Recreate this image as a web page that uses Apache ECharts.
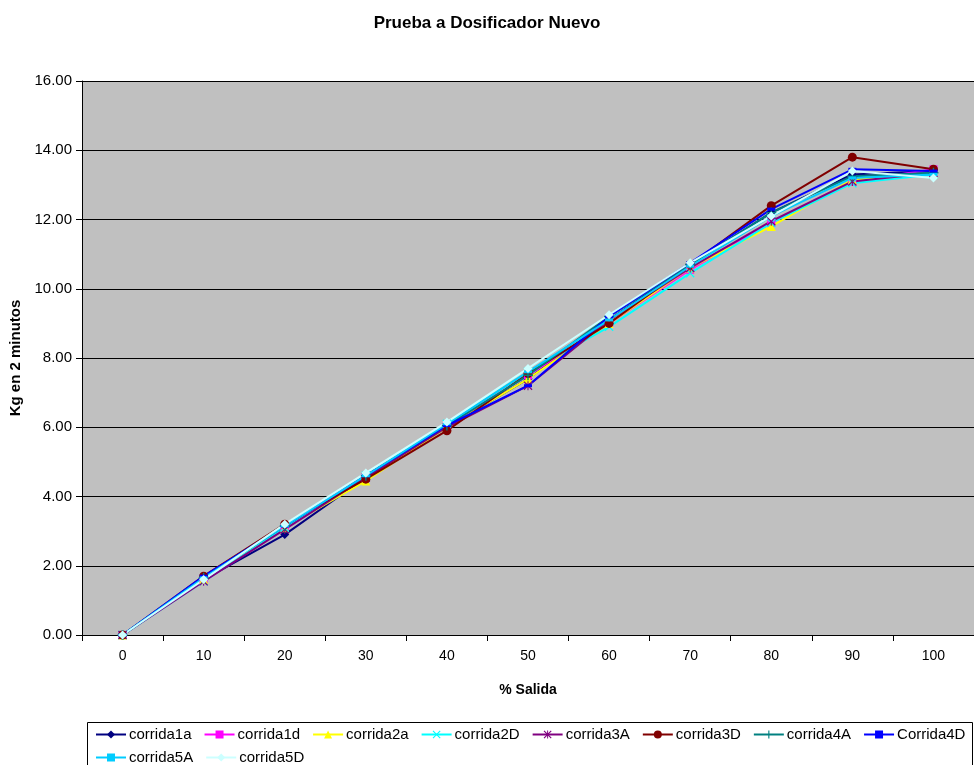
<!DOCTYPE html>
<html>
<head>
<meta charset="utf-8">
<script src="https://cdn.jsdelivr.net/npm/echarts@6/dist/echarts.min.js"></script>
<style>html,body{margin:0;padding:0;background:#fff}#c{width:974px;height:765px}</style>
</head>
<body>
<div id="c"></div>
<script>
const categories = ['0','10','20','30','40','50','60','70','80','90','100'];
const corrida1a = [0, 1.60, 2.90, 4.55, 6.00, 7.40, 9.10, 10.70, 12.20, 13.30, 13.40];
const corrida1d = [0, 1.60, 3.10, 4.55, 6.05, 7.50, 9.00, 10.55, 11.90, 13.10, 13.45];
const corrida2a = [0, 1.60, 3.10, 4.45, 6.00, 7.40, 9.00, 10.60, 11.80, 13.15, 13.30];
const corrida2D = [0, 1.55, 3.10, 4.60, 6.10, 7.60, 8.90, 10.45, 11.90, 13.05, 13.30];
const corrida3A = [0, 1.55, 3.05, 4.55, 6.00, 7.20, 9.10, 10.60, 11.95, 13.10, 13.35];
const corrida3D = [0, 1.70, 3.20, 4.50, 5.90, 7.55, 9.00, 10.70, 12.40, 13.80, 13.45];
const corrida4A = [0, 1.65, 3.15, 4.60, 6.05, 7.50, 9.20, 10.70, 12.20, 13.25, 13.35];
const Corrida4D = [0, 1.70, 3.15, 4.60, 6.05, 7.20, 9.20, 10.75, 12.30, 13.45, 13.40];
const corrida5A = [0, 1.65, 3.15, 4.60, 6.10, 7.60, 9.10, 10.65, 12.10, 13.20, 13.30];
const corrida5D = [0, 1.60, 3.20, 4.68, 6.15, 7.70, 9.25, 10.75, 12.10, 13.40, 13.20];
const yTicks = [0, 2, 4, 6, 8, 10, 12, 14, 16];

const SYM_X = 'path://M1,0L5,4L9,0L10,1L6,5L10,9L9,10L5,6L1,10L0,9L4,5L0,1Z';
const SYM_PLUS = 'path://M4.3,0H5.7V4.3H10V5.7H5.7V10H4.3V5.7H0V4.3H4.3Z';
const SYM_STAR = 'path://M1,0L5,4L9,0L10,1L6,5L10,9L9,10L5,6L1,10L0,9L4,5L0,1Z M4.4,0H5.6V10H4.4Z';
const SYM_DASH = 'path://M0,0H10V3H0Z';

const defs = [
  ['corrida1a', corrida1a, '#000080', 'diamond', 9],
  ['corrida1d', corrida1d, '#FF00FF', 'rect', 8],
  ['corrida2a', corrida2a, '#FFFF00', 'triangle', 9],
  ['corrida2D', corrida2D, '#00FFFF', SYM_X, 9],
  ['corrida3A', corrida3A, '#800080', SYM_STAR, 9],
  ['corrida3D', corrida3D, '#800000', 'circle', 9],
  ['corrida4A', corrida4A, '#008080', SYM_PLUS, 10],
  ['Corrida4D', Corrida4D, '#0000FF', SYM_DASH, [8, 3]],
  ['corrida5A', corrida5A, '#00CCFF', SYM_DASH, [8, 3]],
  ['corrida5D', corrida5D, '#CCFFFF', 'diamond', 9]
];

const font = 'Liberation Sans, Arial, sans-serif';
const chart = echarts.init(document.getElementById('c'), null, {renderer: 'canvas'});
chart.setOption({
  animation: false,
  backgroundColor: '#ffffff',
  title: {
    text: 'Prueba a Dosificador Nuevo',
    left: 'center', top: 10,
    textStyle: {fontFamily: font, fontWeight: 'bold', fontSize: 17, color: '#000'}
  },
  graphic: [{
    type: 'rect', left: 87, top: 722, z: -1, silent: true,
    shape: {width: 885, height: 60},
    style: {fill: '#fff', stroke: '#000', lineWidth: 1}
  }],
  grid: {
    left: 82, right: 0, top: 81, bottom: 130,
    show: true, backgroundColor: '#C0C0C0', borderWidth: 0
  },
  legend: {
    left: 87, top: 722, width: 875,
    padding: [5, 8, 5, 8],
    itemWidth: 30, itemHeight: 10, itemGap: 8,
    textStyle: {fontFamily: font, fontSize: 15, color: '#000', lineHeight: 12, padding: [0, 4, 0, -2]},
    data: defs.map(d => d[0])
  },
  xAxis: {
    type: 'category', data: categories, boundaryGap: true,
    name: '% Salida', nameLocation: 'middle', nameGap: 48,
    nameTextStyle: {fontFamily: font, fontWeight: 'bold', fontSize: 14, color: '#000'},
    axisLine: {lineStyle: {color: '#000', width: 1}},
    axisTick: {show: true, length: 6, lineStyle: {color: '#000'}},
    axisLabel: {fontFamily: font, fontSize: 14, color: '#000', margin: 14},
    splitLine: {show: false}
  },
  yAxis: {
    type: 'value', min: 0, max: 16, interval: 2,
    name: 'Kg en 2 minutos', nameLocation: 'middle', nameGap: 56,
    nameTextStyle: {fontFamily: font, fontWeight: 'bold', fontSize: 15, color: '#000'},
    axisLine: {show: true, lineStyle: {color: '#000', width: 1}},
    axisTick: {show: true, length: 6, lineStyle: {color: '#000'}},
    axisLabel: {fontFamily: font, fontSize: 15, color: '#000', margin: 10,
      formatter: v => yTicks.includes(v) ? v.toFixed(2) : ''},
    splitLine: {show: true, lineStyle: {color: '#000', width: 1}}
  },
  series: defs.map(d => ({
    name: d[0], type: 'line', data: d[1],
    symbol: d[3], symbolSize: d[4], showSymbol: true,
    lineStyle: {color: d[2], width: 2},
    itemStyle: {color: d[2], borderWidth: 0},
    emphasis: {disabled: true}
  }))
});
</script>
</body>
</html>
